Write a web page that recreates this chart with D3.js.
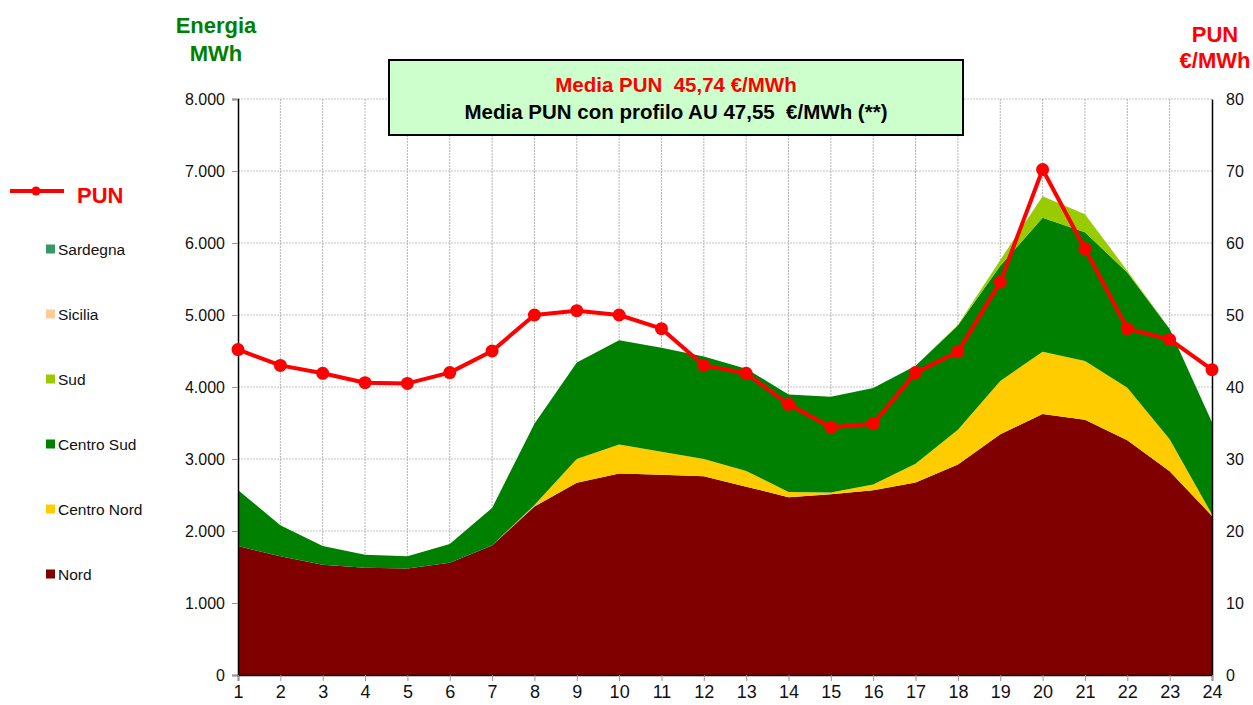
<!DOCTYPE html>
<html>
<head>
<meta charset="utf-8">
<script src="https://cdn.jsdelivr.net/npm/d3@7"></script>
<style>
  body { margin: 0; background: #fff; }
  text { font-family: "Liberation Sans", Arial, sans-serif; }
</style>
</head>
<body>
<script>
// hours of the day
var hours = d3.range(1, 25);

// energy per zone, MWh
var nord       = [1790, 1650, 1530, 1490, 1480, 1560, 1800, 2340, 2670, 2800, 2780, 2760, 2615, 2470, 2510, 2565, 2675, 2925, 3345, 3625, 3545, 3260, 2830, 2210];
var centroNord = [0, 0, 0, 0, 0, 0, 0, 20, 330, 400, 320, 240, 220, 70, 25, 80, 260, 480, 740, 865, 815, 730, 445, 20];
var centroSud  = [780, 430, 260, 180, 170, 260, 520, 1130, 1340, 1450, 1445, 1425, 1420, 1355, 1330, 1340, 1360, 1450, 1600, 1860, 1790, 1600, 1530, 1280];
var sud        = [0, 0, 0, 0, 0, 0, 0, 0, 0, 0, 0, 0, 0, 0, 0, 0, 0, 10, 80, 300, 250, 25, 5, 0];
var sicilia    = [0, 0, 0, 0, 0, 0, 0, 0, 0, 0, 0, 0, 0, 0, 0, 0, 0, 0, 0, 0, 0, 0, 0, 0];
var sardegna   = [0, 0, 0, 0, 0, 0, 0, 0, 0, 0, 0, 0, 0, 0, 0, 0, 0, 0, 0, 0, 0, 0, 0, 0];

// PUN, EUR/MWh
var pun = [45.2, 43.0, 41.9, 40.6, 40.5, 42.0, 45.0, 50.0, 50.6, 50.0, 48.1, 43.0, 41.9, 37.6, 34.4, 34.9, 42.0, 44.9, 54.6, 70.2, 59.2, 48.1, 46.6, 42.4];

var zoneNames  = ["Nord", "Centro Nord", "Centro Sud", "Sud", "Sicilia", "Sardegna"];
var zoneValues = [nord, centroNord, centroSud, sud, sicilia, sardegna];
var zoneColors = ["#800000", "#ffcc00", "#008000", "#99cc00", "#ffcc99", "#339966"];

var leftTicks  = d3.range(0, 8001, 1000);
var rightTicks = d3.range(0, 81, 10);

var width = 1253, height = 705;

var svg = d3.select("body").append("svg")
    .attr("width", width)
    .attr("height", height);

var x = d3.scaleLinear().domain([1, 24]).range([238, 1212]);
var y = d3.scaleLinear().domain([0, 8000]).range([675, 99]);
var yR = d3.scaleLinear().domain([0, 80]).range([675, 99]);

var it = d3.formatLocale({decimal: ",", thousands: ".", grouping: [3], currency: ["", "€"]});
var fmt = it.format(",d");

// table for the stack
var table = hours.map(function(h, i) {
  var row = {hour: h};
  zoneNames.forEach(function(z, k) { row[z] = zoneValues[k][i]; });
  return row;
});

// grid
var grid = svg.append("g");
grid.selectAll(".hg").data(leftTicks.slice(1)).enter().append("line")
    .attr("x1", x(1)).attr("x2", x(24))
    .attr("y1", function(d) { return y(d); }).attr("y2", function(d) { return y(d); })
    .attr("stroke", "#c4c4c4").attr("stroke-dasharray", "2,1");
grid.selectAll(".vg").data(hours.slice(1, 23)).enter().append("line")
    .attr("x1", function(d) { return x(d); }).attr("x2", function(d) { return x(d); })
    .attr("y1", y(8000)).attr("y2", y(0))
    .attr("stroke", "#b4b4b4").attr("stroke-dasharray", "2,1");

// stacked areas
var stack = d3.stack().keys(zoneNames);
var series = stack(table);
var area = d3.area()
    .x(function(d) { return x(d.data.hour); })
    .y0(function(d) { return y(d[0]); })
    .y1(function(d) { return y(d[1]); });

svg.append("g").selectAll("path").data(series).enter().append("path")
    .attr("d", area)
    .attr("fill", function(d, i) { return zoneColors[i]; });

// axes
var gl = svg.append("g").attr("transform", "translate(" + x(1) + ",0)")
    .call(d3.axisLeft(y).tickValues(leftTicks).tickFormat(fmt).tickSize(6).tickPadding(7));
var gr = svg.append("g").attr("transform", "translate(" + x(24) + ",0)")
    .call(d3.axisRight(yR).tickValues(rightTicks).tickSize(0).tickPadding(14));
var gb = svg.append("g").attr("transform", "translate(0," + y(0) + ")")
    .call(d3.axisBottom(x).tickValues(hours).tickFormat(d3.format("d")).tickSize(6).tickPadding(4));

[gl, gr, gb].forEach(function(g) {
  g.select(".domain").attr("stroke", "#000").attr("stroke-width", 1.5);
  g.selectAll(".tick line").attr("stroke", "#999");
  g.selectAll(".tick text").attr("fill", "#111")
      .style("font-family", "'Liberation Sans', Arial, sans-serif");
});
gl.selectAll(".tick text").style("font-size", "16px");
gr.selectAll(".tick text").style("font-size", "16px");
gb.selectAll(".tick text").style("font-size", "18px");

// PUN line
var line = d3.line()
    .x(function(d, i) { return x(hours[i]); })
    .y(function(d) { return yR(d); });
svg.append("path").datum(pun)
    .attr("d", line)
    .attr("fill", "none")
    .attr("stroke", "#ff0000")
    .attr("stroke-width", 4)
    .attr("stroke-linejoin", "round");
svg.append("g").selectAll("circle").data(pun).enter().append("circle")
    .attr("cx", function(d, i) { return x(hours[i]); })
    .attr("cy", function(d) { return yR(d); })
    .attr("r", 6.5)
    .attr("fill", "#ff0000");

// axis titles
svg.append("text").attr("x", 216).attr("y", 33).attr("text-anchor", "middle")
    .style("font-size", "22px").style("font-weight", "bold").attr("fill", "#008000").text("Energia");
svg.append("text").attr("x", 216).attr("y", 61).attr("text-anchor", "middle")
    .style("font-size", "22px").style("font-weight", "bold").attr("fill", "#008000").text("MWh");
svg.append("text").attr("x", 1215).attr("y", 42).attr("text-anchor", "middle")
    .style("font-size", "22px").style("font-weight", "bold").attr("fill", "#ff0000").text("PUN");
svg.append("text").attr("x", 1215).attr("y", 68).attr("text-anchor", "middle")
    .style("font-size", "22px").style("font-weight", "bold").attr("fill", "#ff0000").text("€/MWh");

// info box
svg.append("rect").attr("x", 389).attr("y", 60).attr("width", 574).attr("height", 75)
    .attr("fill", "#ccffcc").attr("stroke", "#000").attr("stroke-width", 2);
svg.append("text").attr("x", 676).attr("y", 92).attr("text-anchor", "middle")
    .style("font-size", "20.5px").style("font-weight", "bold").attr("fill", "#ff0000")
    .attr("xml:space", "preserve").text("Media PUN  45,74 €/MWh");
svg.append("text").attr("x", 676).attr("y", 119).attr("text-anchor", "middle")
    .style("font-size", "20.5px").style("font-weight", "bold").attr("fill", "#000")
    .attr("xml:space", "preserve").text("Media PUN con profilo AU 47,55  €/MWh (**)");

// legend
var leg = svg.append("g");
leg.append("line").attr("x1", 10).attr("x2", 64).attr("y1", 191).attr("y2", 191)
    .attr("stroke", "#ff0000").attr("stroke-width", 4);
leg.append("circle").attr("cx", 36).attr("cy", 191).attr("r", 4.5).attr("fill", "#ff0000");
leg.append("text").attr("x", 77).attr("y", 203)
    .style("font-size", "22px").style("font-weight", "bold").attr("fill", "#ff0000").text("PUN");

var legOrder = [5, 4, 3, 2, 1, 0];
legOrder.forEach(function(k, j) {
  var cy = 249 + j * 65;
  leg.append("rect").attr("x", 46).attr("y", cy - 4.5).attr("width", 9).attr("height", 9)
      .attr("fill", zoneColors[k]);
  leg.append("text").attr("x", 58).attr("y", cy + 5.5)
      .style("font-size", "15.5px").attr("fill", "#111").text(zoneNames[k]);
});
</script>
</body>
</html>
